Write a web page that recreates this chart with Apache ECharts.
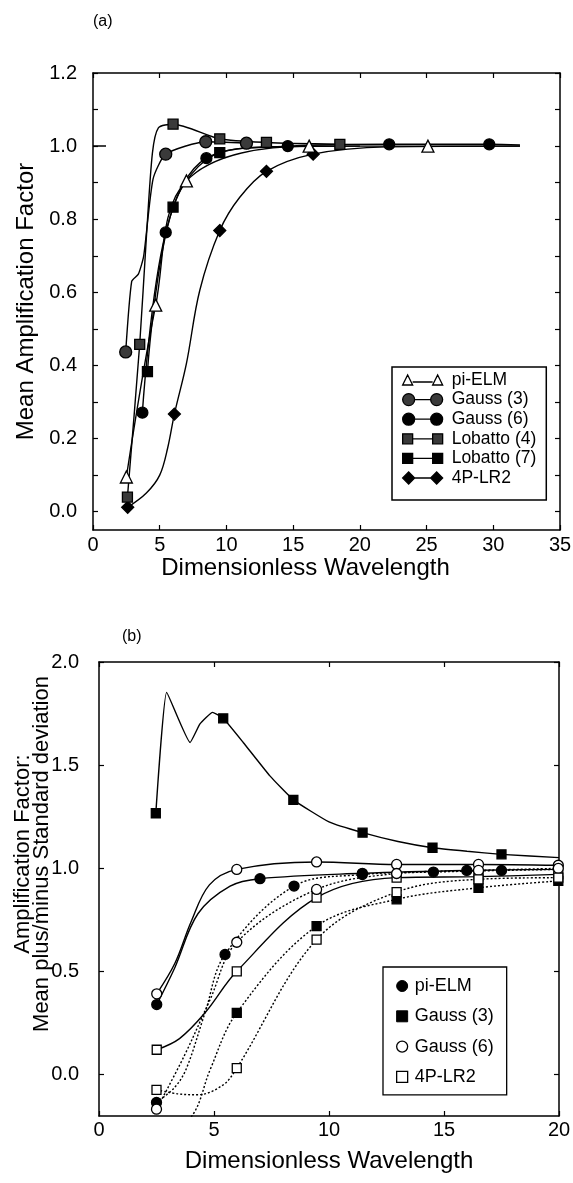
<!DOCTYPE html>
<html>
<head>
<meta charset="utf-8">
<script src="https://cdn.jsdelivr.net/npm/echarts@6/dist/echarts.min.js"></script>
<style>
  html, body { margin: 0; padding: 0; background: #fff; }
  #chart { width: 573px; height: 1183px; }
</style>
</head>
<body>
<div id="chart"></div>
<script>
// ---------- Panel (a): mean amplification factor ----------
const aXTicks = [0, 5, 10, 15, 20, 25, 30, 35];
const aYLabels = [0, 0.2, 0.4, 0.6, 0.8, 1.0, 1.2];
const aYTicks = [0, 0.1, 0.2, 0.3, 0.4, 0.5, 0.6, 0.7, 0.8, 0.9, 1.0, 1.1, 1.2];

// marked points: [dimensionless wavelength, mean amplification factor]
const aPiElm    = [[2.5, 0.095], [4.7, 0.565], [7.0, 0.905], [16.2, 1.0], [25.1, 1.0]];
const aGauss3   = [[2.45, 0.437], [5.45, 0.978], [8.45, 1.012], [11.5, 1.008]];
const aGauss6   = [[3.7, 0.271], [5.45, 0.764], [8.5, 0.967], [14.6, 1.0], [22.2, 1.005], [29.7, 1.005]];
const aLobatto4 = [[2.58, 0.04], [3.5, 0.458], [6.0, 1.06], [9.5, 1.02], [13.0, 1.01], [18.5, 1.005]];
const aLobatto7 = [[4.08, 0.383], [6.0, 0.833], [9.5, 0.982]];
const aLr2      = [[2.6, 0.012], [6.1, 0.267], [9.5, 0.769], [13.0, 0.931], [16.5, 0.978]];
// unmarked points along the fitted curves
const aPiElmCurve    = [[32.0, 1.0]];
const aGauss3Curve   = [[2.9, 0.63], [3.4, 0.65], [3.8, 0.70], [4.5, 0.91]];
const aGauss6Curve   = [[32.0, 1.003]];
const aLobatto4Curve = [[4.0, 0.75], [4.45, 0.98], [4.9, 1.05]];
const aLobatto7Curve = [[14.0, 0.998], [20.0, 1.0]];
const aLr2Curve      = [[4.0, 0.051], [5.0, 0.10], [5.6, 0.175], [7.0, 0.405], [8.0, 0.605],
                        [11.0, 0.86], [22.0, 0.998], [32.0, 1.0]];

// ---------- Panel (b): mean plus/minus standard deviation ----------
const bXTicks = [0, 5, 10, 15, 20];
const bYLabels = [0, 0.5, 1.0, 1.5, 2.0];

// mean + std (solid lines)
const bPiElmHi  = [[2.51, 0.34], [7.0, 0.95], [11.45, 0.976], [15.99, 0.99]];
const bGauss3Hi = [[2.47, 1.267], [5.4, 1.727], [8.45, 1.332], [11.46, 1.173], [14.5, 1.10], [17.5, 1.068]];
const bGauss6Hi = [[2.51, 0.392], [5.99, 0.995], [9.46, 1.031], [12.94, 1.019], [16.5, 1.019], [19.97, 1.015]];
const bLr2Hi    = [[2.51, 0.121], [5.99, 0.501], [9.46, 0.858], [12.94, 0.955], [16.5, 0.96], [19.97, 0.971]];
// mean - std (dotted lines)
const bPiElmLo  = [[2.5, -0.134], [5.48, 0.583], [8.48, 0.914], [11.45, 0.97], [14.54, 0.982], [17.5, 0.99]];
const bGauss3Lo = [[2.47, -0.39], [5.99, 0.30], [9.46, 0.72], [12.94, 0.85], [16.5, 0.906], [19.97, 0.939]];
const bGauss6Lo = [[2.5, -0.167], [5.99, 0.642], [9.46, 0.898], [12.94, 0.975], [16.5, 0.99], [19.97, 1.0]];
const bLr2Lo    = [[2.5, -0.073], [5.99, 0.032], [9.46, 0.655], [12.94, 0.885], [16.5, 0.947], [19.97, 0.955]];
// unmarked points along the fitted curves
const bPiElmHiCurve  = [[3.3, 0.52], [4.3, 0.78], [5.7, 0.914], [20.0, 0.995]];
const bGauss3HiCurve = [[2.94, 1.853], [3.96, 1.61], [4.39, 1.70], [4.94, 1.756], [6.27, 1.61], [7.43, 1.448],
                        [10.0, 1.225], [13.0, 1.13], [16.0, 1.083], [20.0, 1.052]];
const bGauss6HiCurve = [[3.3, 0.54], [4.0, 0.74], [4.8, 0.92]];
const bLr2HiCurve    = [[3.5, 0.175], [4.61, 0.30]];
const bPiElmLoCurve  = [[3.3, -0.06], [3.8, 0.03], [4.61, 0.30], [20.0, 0.995]];
const bGauss3LoCurve = [[4.1, -0.19], [4.83, 0.024]];
const bGauss6LoCurve = [[3.7, 0.09], [4.83, 0.364]];
const bLr2LoCurve    = [[3.45, -0.093], [4.3, -0.097], [5.4, -0.049]];

const FONT = "'Liberation Sans', Arial, Helvetica, sans-serif";
const INK = '#000';
const GREY_FILL = '#3a3a3a';

// merge marked points and unmarked curve points into one ordered line
function curve(points, extra) {
  const marked = points.map(p => ({ value: p }));
  const plain = (extra || []).map(p => ({ value: p, symbol: 'none' }));
  return marked.concat(plain).sort((a, b) => a.value[0] - b.value[0]);
}

function lineSeries(name, grid, points, extra, symbol, size, fill, dotted, smooth) {
  return {
    name: name,
    type: 'line',
    xAxisIndex: grid === 0 ? 0 : 2,
    yAxisIndex: grid === 0 ? 0 : 3,
    data: curve(points, extra),
    smooth: smooth === undefined ? 0.35 : smooth,
    symbol: symbol,
    symbolSize: size,
    showAllSymbol: true,
    clip: true,
    lineStyle: { color: INK, width: 1.4, type: dotted ? [2, 2] : 'solid' },
    itemStyle: { color: fill, borderColor: INK, borderWidth: 1.3 },
    emphasis: { disabled: true },
    animation: false,
    z: 3
  };
}

const tickLine = { color: INK, width: 1.2 };
const frameLine = { show: true, onZero: false, lineStyle: { color: INK, width: 1.5 } };

// companion axis that only draws the frame edge and its inner ticks
function frameAxis(base, ticks) {
  return Object.assign({
    type: 'value',
    axisLine: frameLine,
    axisLabel: { show: false },
    splitLine: { show: false },
    axisTick: Object.assign({ show: true, inside: true, length: 5, lineStyle: tickLine },
      ticks ? { customValues: ticks } : {})
  }, base);
}

// legend icons: marker - line - marker
const TRI = 'path://M0,11 L5,1 L10,11 Z M10,8 L30,8 M30,11 L35,1 L40,11 Z';
const CIR = 'path://M0,6 A6,6 0 1,0 12,6 A6,6 0 1,0 0,6 Z M12,6 L28,6 M28,6 A6,6 0 1,0 40,6 A6,6 0 1,0 28,6 Z';
const SQR = 'path://M0,1 L10,1 L10,11 L0,11 Z M10,6 L30,6 M30,1 L40,1 L40,11 L30,11 Z';
const DIA = 'path://M0,6 L6,0 L12,6 L6,12 Z M12,6 L28,6 M28,6 L34,0 L40,6 L34,12 Z';

const labelStyle = { color: INK, fontFamily: FONT, fontSize: 20 };
const nameStyle = { color: INK, fontFamily: FONT, fontSize: 24 };

const option = {
  backgroundColor: '#fff',
  animation: false,
  title: [
    { text: '(a)', left: 88, top: 9, textStyle: { fontFamily: FONT, fontSize: 16, fontWeight: 'normal', color: INK } },
    { text: '(b)', left: 117, top: 624, textStyle: { fontFamily: FONT, fontSize: 16, fontWeight: 'normal', color: INK } }
  ],
  grid: [
    { left: 93, top: 73, width: 467, height: 457, outerBoundsMode: 'none' },
    { left: 99, top: 662, width: 460, height: 454, outerBoundsMode: 'none' }
  ],
  xAxis: [
    { gridIndex: 0, type: 'value', min: 0, max: 35, interval: 5, position: 'bottom',
      name: 'Dimensionless Wavelength', nameLocation: 'middle', nameGap: 26,
      nameTextStyle: Object.assign({ padding: [0, 42, 0, 0] }, nameStyle),
      axisLine: frameLine,
      axisTick: { inside: true, length: 5, lineStyle: tickLine },
      axisLabel: Object.assign({ margin: 5, customValues: aXTicks, formatter: v => String(v) }, labelStyle),
      splitLine: { show: false } },
    frameAxis({ gridIndex: 0, min: 0, max: 35, interval: 5, position: 'top' }),
    { gridIndex: 1, type: 'value', min: 0, max: 20, interval: 5, position: 'bottom',
      name: 'Dimensionless Wavelength', nameLocation: 'middle', nameGap: 33, nameTextStyle: nameStyle,
      axisLine: frameLine,
      axisTick: { inside: true, length: 5, lineStyle: tickLine },
      axisLabel: Object.assign({ margin: 4, customValues: bXTicks, formatter: v => String(v) }, labelStyle),
      splitLine: { show: false } },
    frameAxis({ gridIndex: 1, min: 0, max: 20, interval: 5, position: 'top' })
  ],
  yAxis: [
    { gridIndex: 0, type: 'value', min: -0.05, max: 1.2, position: 'left',
      name: 'Mean Amplification Factor', nameLocation: 'middle', nameGap: 55, nameTextStyle: nameStyle,
      axisLine: frameLine,
      axisTick: { inside: true, length: 5, customValues: aYTicks, lineStyle: tickLine },
      axisLabel: Object.assign({ margin: 16, customValues: aYLabels, formatter: v => v.toFixed(1) }, labelStyle),
      splitLine: { show: false } },
    frameAxis({ gridIndex: 0, min: -0.05, max: 1.2, position: 'right' }, aYTicks),
    frameAxis({ gridIndex: 0, min: -0.05, max: 1.2, position: 'left',
      axisLine: { show: false, onZero: false },
      axisTick: { show: true, inside: true, length: 13, customValues: [1.0], lineStyle: { color: INK, width: 1.5 } } }),
    { gridIndex: 1, type: 'value', min: -0.2, max: 2.0, position: 'left',
      name: 'Amplification Factor:\nMean plus/minus Standard deviation', nameLocation: 'middle', nameGap: 48,
      nameMoveOverlap: false,
      nameTextStyle: Object.assign({}, nameStyle, { fontSize: 22, lineHeight: 19, padding: [0, 0, 0, 70] }),
      axisLine: frameLine,
      axisTick: { inside: true, length: 5, customValues: bYLabels, lineStyle: tickLine },
      axisLabel: Object.assign({ margin: 20, customValues: bYLabels, formatter: v => v.toFixed(1) }, labelStyle),
      splitLine: { show: false } },
    frameAxis({ gridIndex: 1, min: -0.2, max: 2.0, position: 'right' }, bYLabels)
  ],
  legend: [
    {
      orient: 'vertical', left: 392, top: 367,
      padding: [4, 10, 13, 10], itemGap: 1.6, itemWidth: 40, itemHeight: 12,
      borderColor: INK, borderWidth: 1.5, backgroundColor: '#fff',
      selectedMode: false,
      textStyle: { color: INK, fontFamily: FONT, fontSize: 17.5, lineHeight: 16, padding: [0, 0, 0, 4] },
      data: [
        { name: 'pi-ELM', icon: TRI, itemStyle: { color: '#fff', borderColor: INK, borderWidth: 1.3 } },
        { name: 'Gauss (3)', icon: CIR, itemStyle: { color: GREY_FILL, borderColor: INK, borderWidth: 1.3 } },
        { name: 'Gauss (6)', icon: CIR, itemStyle: { color: INK, borderColor: INK, borderWidth: 1.3 } },
        { name: 'Lobatto (4)', icon: SQR, itemStyle: { color: GREY_FILL, borderColor: INK, borderWidth: 1.3 } },
        { name: 'Lobatto (7)', icon: SQR, itemStyle: { color: INK, borderColor: INK, borderWidth: 1.3 } },
        { name: '4P-LR2', icon: DIA, itemStyle: { color: INK, borderColor: INK, borderWidth: 1.3 } }
      ]
    },
    {
      orient: 'vertical', left: 383, top: 967,
      padding: [10, 8, 9, 13], itemGap: 12.3, itemWidth: 11, itemHeight: 11,
      borderColor: INK, borderWidth: 1.3, backgroundColor: '#fff',
      selectedMode: false,
      textStyle: { color: INK, fontFamily: FONT, fontSize: 18, lineHeight: 18, padding: [0, 0, 0, 2] },
      data: [
        { name: 'pi-ELM ', icon: 'circle', itemStyle: { color: INK, borderColor: INK, borderWidth: 1 } },
        { name: 'Gauss (3) ', icon: 'rect', itemStyle: { color: INK, borderColor: INK, borderWidth: 1 } },
        { name: 'Gauss (6) ', icon: 'circle', itemStyle: { color: '#fff', borderColor: INK, borderWidth: 1.3 } },
        { name: '4P-LR2 ', icon: 'rect', itemStyle: { color: '#fff', borderColor: INK, borderWidth: 1.3 } }
      ]
    }
  ],
  series: [
    // panel (a)
    lineSeries('4P-LR2', 0, aLr2, aLr2Curve, 'diamond', 12, INK, false),
    lineSeries('Lobatto (7)', 0, aLobatto7, aLobatto7Curve, 'rect', 10, INK, false),
    lineSeries('Lobatto (4)', 0, aLobatto4, aLobatto4Curve, 'rect', 10, GREY_FILL, false, 0.25),
    lineSeries('Gauss (6)', 0, aGauss6, aGauss6Curve, 'circle', 11, INK, false),
    lineSeries('Gauss (3)', 0, aGauss3, aGauss3Curve, 'circle', 12, GREY_FILL, false, 0.2),
    lineSeries('pi-ELM', 0, aPiElm, aPiElmCurve, 'triangle', 12, '#fff', false),
    // panel (b): solid = mean + std, dotted = mean - std
    lineSeries('Gauss (3) ', 1, bGauss3Hi, bGauss3HiCurve, 'rect', 9, INK, false, 0.12),
    lineSeries('pi-ELM ', 1, bPiElmHi, bPiElmHiCurve, 'circle', 10, INK, false),
    lineSeries('Gauss (6) ', 1, bGauss6Hi, bGauss6HiCurve, 'circle', 10, '#fff', false),
    lineSeries('4P-LR2 ', 1, bLr2Hi, bLr2HiCurve, 'rect', 9, '#fff', false),
    lineSeries('pi-ELM ', 1, bPiElmLo, bPiElmLoCurve, 'circle', 10, INK, true),
    lineSeries('Gauss (3) ', 1, bGauss3Lo, bGauss3LoCurve, 'rect', 9, INK, true),
    lineSeries('Gauss (6) ', 1, bGauss6Lo, bGauss6LoCurve, 'circle', 10, '#fff', true),
    lineSeries('4P-LR2 ', 1, bLr2Lo, bLr2LoCurve, 'rect', 9, '#fff', true)
  ]
};

const chart = echarts.init(document.getElementById('chart'), null, { renderer: 'canvas' });
chart.setOption(option);
</script>
</body>
</html>
